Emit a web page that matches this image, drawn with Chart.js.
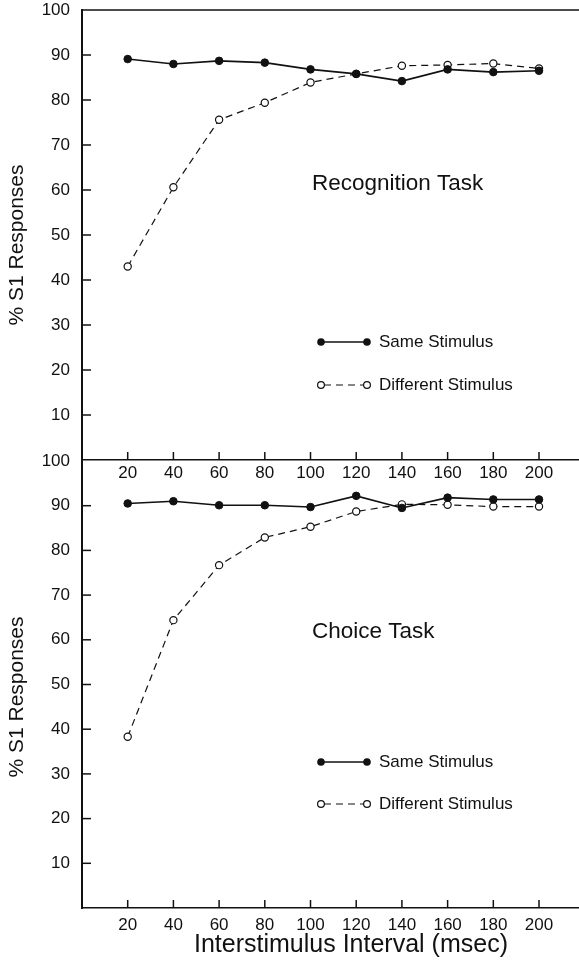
<!DOCTYPE html>
<html>
<head>
<meta charset="utf-8">
<script src="https://cdn.jsdelivr.net/npm/chart.js@4.4.1/dist/chart.umd.min.js"></script>
<style>
  html, body { margin: 0; padding: 0; background: #fff; }
  #wrap { position: relative; width: 579px; height: 961px; }
  canvas { position: absolute; left: 0; top: 0; }
</style>
</head>
<body>
<div id="wrap">
  <canvas id="bottomChart" width="579" height="961"></canvas>
  <canvas id="topChart" width="579" height="490"></canvas>
</div>
<script>
// Datos
const intervals = [20, 40, 60, 80, 100, 120, 140, 160, 180, 200];
const recogSame = [89.1, 88.0, 88.7, 88.3, 86.8, 85.8, 84.2, 86.8, 86.2, 86.5];
const recogDiff = [43.0, 60.6, 75.6, 79.4, 83.9, 85.8, 87.6, 87.8, 88.1, 87.0];
const choiceSame = [90.5, 91.0, 90.1, 90.1, 89.7, 92.2, 89.5, 91.8, 91.4, 91.4];
const choiceDiff = [38.3, 64.4, 76.7, 82.9, 85.3, 88.7, 90.3, 90.2, 89.8, 89.8];
const yTicks = [10, 20, 30, 40, 50, 60, 70, 80, 90, 100];

const FONT = "'Liberation Sans', Arial, Helvetica, sans-serif";
const INK = '#111';

const toPts = (ys) => ys.map((y, i) => ({ x: intervals[i], y: y }));

function makeDatasets(same, diff) {
    return [
        {
            label: 'Same Stimulus',
            data: toPts(same),
            borderColor: INK,
            borderWidth: 1.6,
            pointRadius: 3.8,
            pointBackgroundColor: INK,
            pointBorderColor: INK,
            pointBorderWidth: 1,
        },
        {
            label: 'Different Stimulus',
            data: toPts(diff),
            borderColor: INK,
            borderWidth: 1.2,
            borderDash: [7, 5],
            pointRadius: 3.6,
            pointBackgroundColor: '#fff',
            pointBorderColor: INK,
            pointBorderWidth: 1.2,
        }
    ];
}

// Marcas hacia dentro, títulos, texto y leyenda
function panelPlugin(opts) {
    return {
        id: 'panel_' + opts.name,
        afterDraw(chart) {
            const ctx = chart.ctx;
            const area = chart.chartArea;
            const xs = chart.scales.x, ys = chart.scales.y;
            ctx.save();
            ctx.strokeStyle = INK;
            ctx.lineWidth = 1.5;
            // marcas del eje Y
            yTicks.forEach(v => {
                if (v >= 100) return;
                const py = ys.getPixelForValue(v);
                ctx.beginPath();
                ctx.moveTo(area.left, py);
                ctx.lineTo(area.left + 9, py);
                ctx.stroke();
            });
            // marcas del eje X
            intervals.forEach(v => {
                const px = xs.getPixelForValue(v);
                ctx.beginPath();
                ctx.moveTo(px, area.bottom);
                ctx.lineTo(px, area.bottom - 8);
                ctx.stroke();
            });
            // borde superior
            if (opts.topBorder) {
                ctx.beginPath();
                ctx.moveTo(area.left, area.top);
                ctx.lineTo(area.right, area.top);
                ctx.stroke();
            }
            ctx.fillStyle = INK;
            // título del eje X
            if (opts.xTitle) {
                ctx.font = '25px ' + FONT;
                ctx.textAlign = 'center';
                ctx.textBaseline = 'middle';
                ctx.fillText('Interstimulus Interval (msec)', 351, 945);
            }
            // título del eje Y
            ctx.font = '21px ' + FONT;
            ctx.textAlign = 'center';
            ctx.textBaseline = 'middle';
            ctx.translate(17, opts.yTitleY);
            ctx.rotate(-Math.PI / 2);
            ctx.fillText('% S1 Responses', 0, 0);
            ctx.setTransform(1, 0, 0, 1, 0, 0);
            // nombre de la tarea
            ctx.font = '22.5px ' + FONT;
            ctx.textAlign = 'left';
            ctx.fillText(opts.task, 312, opts.taskY);
            // leyenda
            const lx0 = 321, lx1 = 367;
            ctx.font = '17px ' + FONT;
            ctx.lineWidth = 1.6;
            ctx.setLineDash([]);
            ctx.beginPath();
            ctx.moveTo(lx0, opts.legY[0]);
            ctx.lineTo(lx1, opts.legY[0]);
            ctx.stroke();
            [lx0, lx1].forEach(px => {
                ctx.beginPath();
                ctx.arc(px, opts.legY[0], 3.8, 0, Math.PI * 2);
                ctx.fill();
            });
            ctx.fillText('Same Stimulus', 379, opts.legY[0]);
            ctx.lineWidth = 1.2;
            ctx.setLineDash([7, 5]);
            ctx.beginPath();
            ctx.moveTo(lx0 + 3, opts.legY[1]);
            ctx.lineTo(lx1 - 3, opts.legY[1]);
            ctx.stroke();
            ctx.setLineDash([]);
            [lx0, lx1].forEach(px => {
                ctx.beginPath();
                ctx.arc(px, opts.legY[1], 3.4, 0, Math.PI * 2);
                ctx.fillStyle = '#fff';
                ctx.fill();
                ctx.stroke();
            });
            ctx.fillStyle = INK;
            ctx.fillText('Different Stimulus', 379, opts.legY[1]);
            ctx.restore();
        }
    };
}

function makeConfig(same, diff, o) {
    return {
        type: 'line',
        data: { datasets: makeDatasets(same, diff) },
        options: {
            responsive: false,
            animation: false,
            layout: {
                autoPadding: false,
                padding: { top: o.padTop, left: 0, right: 0, bottom: 0 }
            },
            elements: { line: { tension: 0 } },
            plugins: {
                legend: { display: false },
                tooltip: { enabled: false }
            },
            scales: {
                x: {
                    type: 'linear',
                    min: 0,
                    max: 217.5,
                    afterBuildTicks: (s) => { s.ticks = intervals.map(v => ({ value: v })); },
                    afterFit: (s) => {
                        s.height = o.xHeight;
                        s.paddingLeft = 0;
                        s.paddingRight = 0;
                    },
                    grid: { display: false, drawTicks: false },
                    border: { display: true, color: INK, width: 1.6 },
                    ticks: {
                        color: INK,
                        font: { family: FONT, size: 17 },
                        padding: o.xPad,
                        maxRotation: 0,
                        autoSkip: false
                    }
                },
                y: {
                    min: 0,
                    max: 100,
                    afterBuildTicks: (s) => { s.ticks = yTicks.map(v => ({ value: v })); },
                    afterFit: (s) => {
                        s.width = 82;
                        s.paddingTop = 0;
                        s.paddingBottom = 0;
                    },
                    grid: { display: false, drawTicks: false },
                    border: { display: true, color: INK, width: 2 },
                    ticks: {
                        color: INK,
                        font: { family: FONT, size: 17 },
                        padding: 12
                    }
                }
            }
        },
        plugins: [panelPlugin(o)]
    };
}

new Chart(document.getElementById('topChart').getContext('2d'), makeConfig(recogSame, recogDiff, {
    name: 'top', padTop: 10, xHeight: 30, xPad: 3, xTitle: false, topBorder: true,
    yTitleY: 245, task: 'Recognition Task', taskY: 184, legY: [342, 385]
}));

new Chart(document.getElementById('bottomChart').getContext('2d'), makeConfig(choiceSame, choiceDiff, {
    name: 'bottom', padTop: 461, xHeight: 53, xPad: 7, xTitle: true, topBorder: false,
    yTitleY: 697, task: 'Choice Task', taskY: 632, legY: [762, 804]
}));
</script>
</body>
</html>
